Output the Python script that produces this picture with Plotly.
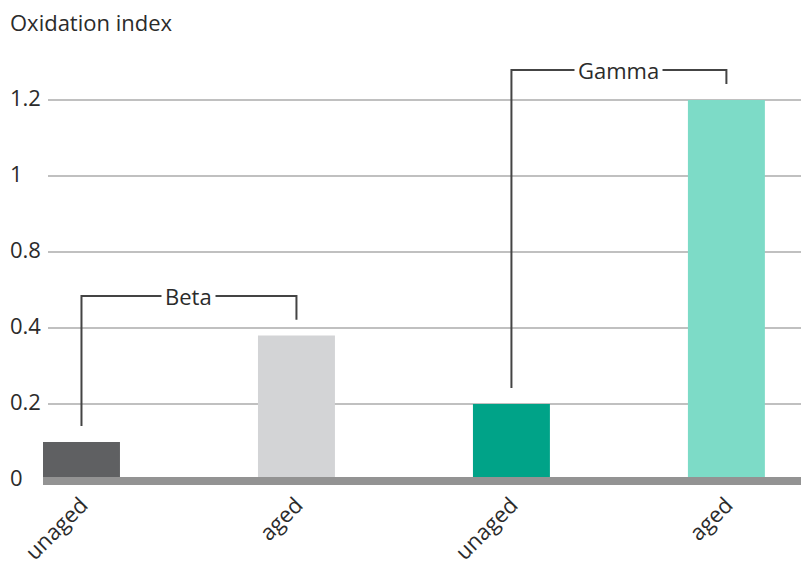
import plotly.graph_objects as go

# ---- data ----
categories = ["unaged", "aged", "unaged", "aged"]
x_pos = [0, 1, 2, 3]
# bar heights in axis position units (axis tick labels are 0,0.2,0.4,0.8,1,1.2 on evenly spaced gridlines)
values = [0.1, 0.38, 0.2, 1.0]
bar_colors = ["#5f6062", "#d3d4d6", "#00a388", "#7ddbc7"]
tick_positions = [0, 0.2, 0.4, 0.6, 0.8, 1.0]
tick_labels = ["0", "0.2", "0.4", "0.8", "1", "1.2"]
groups = ["Beta", "Gamma"]
group_members = [(0, 1), (2, 3)]
bracket_levels = [0.484, 1.079]

FONT = "Open Sans"
TXT = "#2b2b2b"
W, H = 801, 565
L, R, T, B = 43, 0, 60, 80

fig = go.Figure()
fig.add_trace(go.Bar(
    x=x_pos, y=values, width=0.358,
    marker=dict(color=bar_colors, line=dict(width=0)),
    hoverinfo="skip", showlegend=False,
))

shapes = []
# gridlines
for tp in tick_positions:
    if tp == 0:
        continue
    shapes.append(dict(type="line", xref="paper", yref="y", x0=5 / (W - L - R), x1=1,
                       y0=tp, y1=tp, line=dict(color="#ababab", width=1.5), layer="below"))
# baseline
shapes.append(dict(type="rect", xref="paper", yref="y", x0=0, x1=1, y0=-0.0132, y1=0.008,
                   fillcolor="#939393", line=dict(width=0), layer="above"))

annotations = []
# brackets
gap = 0.042
for name, (a, b), lvl in zip(groups, group_members, bracket_levels):
    ya = values[a] + gap
    yb = values[b] + gap
    shapes.append(dict(type="path", xref="x", yref="y",
                       path=f"M {x_pos[a]},{ya} L {x_pos[a]},{lvl} L {x_pos[b]},{lvl} L {x_pos[b]},{yb}",
                       line=dict(color="#444444", width=2)))
    annotations.append(dict(x=(x_pos[a] + x_pos[b]) / 2, y=lvl, xref="x", yref="y",
                            text=name, showarrow=False, bgcolor="white", borderpad=3,
                            font=dict(family=FONT, size=22, color=TXT)))

# y tick labels (left aligned)
for tp, tl in zip(tick_positions, tick_labels):
    annotations.append(dict(x=0, xref="paper", xshift=-35, xanchor="left", y=tp, yref="y",
                            yshift=3, text=tl, showarrow=False,
                            font=dict(family=FONT, size=22, color=TXT)))

# axis title
annotations.append(dict(x=0, xref="paper", xshift=-35, xanchor="left", y=1, yref="paper",
                        yshift=38, yanchor="middle", text="Oxidation index", showarrow=False,
                        font=dict(family=FONT, size=22, color=TXT)))

fig.update_layout(
    width=W, height=H,
    margin=dict(l=L, r=R, t=T, b=B, pad=0, autoexpand=False),
    paper_bgcolor="white", plot_bgcolor="white",
    xaxis=dict(range=[-0.179, 3.347], tickvals=x_pos, ticktext=categories, tickangle=-45,
               showgrid=False, zeroline=False, showline=False, ticks="", automargin=False,
               ticklabelstandoff=2,
               tickfont=dict(family=FONT, size=22, color=TXT)),
    yaxis=dict(range=[-0.0132, 1.1053], showticklabels=False, showgrid=False,
               zeroline=False, showline=False, ticks="", automargin=False),
    shapes=shapes, annotations=annotations,
    font=dict(family=FONT, color=TXT),
)

fig.write_html("out.html", config={"displayModeBar": False},
               post_script="document.body.style.margin='0';document.body.style.overflow='hidden';")
